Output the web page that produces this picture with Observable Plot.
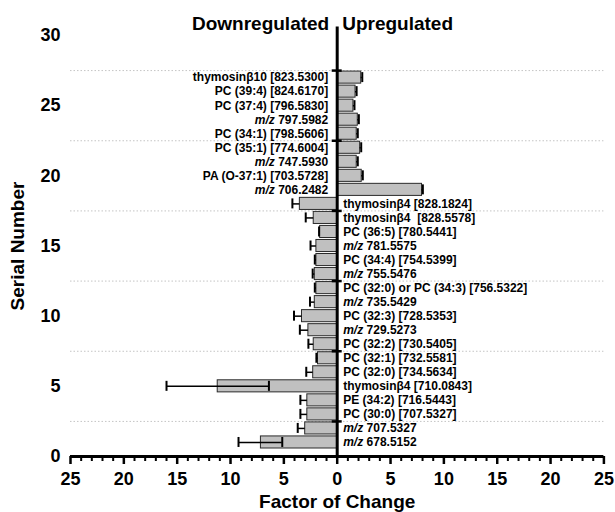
<!DOCTYPE html>
<html>
<head>
<meta charset="utf-8">
<script src="https://cdn.jsdelivr.net/npm/d3@7"></script>
<script src="https://cdn.jsdelivr.net/npm/@observablehq/plot@0.6"></script>
<style>
  html, body { margin: 0; padding: 0; background: #fff; }
</style>
</head>
<body>
<div id="chart"></div>
<script>
// Serial numbers (bottom to top)
const serials = [1,2,3,4,5,6,7,8,9,10,11,12,13,14,15,16,17,18,19,20,21,22,23,24,25,26,27];
const names = [
  "m/z 678.5152",
  "m/z 707.5327",
  "PC (30:0) [707.5327]",
  "PE (34:2) [716.5443]",
  "thymosinβ4 [710.0843]",
  "PC (32:0) [734.5634]",
  "PC (32:1) [732.5581]",
  "PC (32:2) [730.5405]",
  "m/z 729.5273",
  "PC (32:3) [728.5353]",
  "m/z 735.5429",
  "PC (32:0) or PC (34:3) [756.5322]",
  "m/z 755.5476",
  "PC (34:4) [754.5399]",
  "m/z 781.5575",
  "PC (36:5) [780.5441]",
  "thymosinβ4  [828.5578]",
  "thymosinβ4 [828.1824]",
  "m/z 706.2482",
  "PA (O-37:1) [703.5728]",
  "m/z 747.5930",
  "PC (35:1) [774.6004]",
  "PC (34:1) [798.5606]",
  "m/z 797.5982",
  "PC (37:4) [796.5830]",
  "PC (39:4) [824.6170]",
  "thymosinβ10 [823.5300]"
];
// Factor of change (negative = downregulated)
const values = [-7.15,-3.0,-2.8,-2.8,-11.2,-2.25,-1.8,-2.2,-2.7,-3.3,-2.1,-1.95,-2.1,-1.95,-1.95,-1.6,-2.2,-3.5,
                7.95,2.3,1.83,2.15,1.83,1.93,1.52,1.72,2.25];
// Error extent away from zero, and toward zero
const errOut = [2.1,0.7,0.65,0.65,4.8,0.65,0.15,0.5,0.8,0.75,0.45,0.15,0.2,0.15,0.55,0.1,0.75,0.7,
                0.08,0.1,0.1,0.1,0.1,0.1,0.1,0.1,0.1];
const errIn  = [2.0,0,0,0,4.8,0,0,0,0,0,0,0,0,0,0,0,0,0,
                0,0,0,0,0,0,0,0,0];

const xMajor = [-25,-20,-15,-10,-5,0,5,10,15,20,25];
const xMinor = d3.range(-25, 26).filter(v => v % 5 !== 0);
const yTicks = [0,5,10,15,20,25,30];
const gridVals = [2.5,7.5,12.5,17.5,22.5,27.5];
const titles = ["Downregulated", "Upregulated"];

const data = serials.map((s, i) => ({serial: s, name: names[i], value: values[i], errOut: errOut[i], errIn: errIn[i]}));
const outer = d => d.value + Math.sign(d.value) * d.errOut;
const inner = d => d.value - Math.sign(d.value) * d.errIn;

const font = "'Liberation Sans', Arial, Helvetica, sans-serif";

const svg = Plot.plot({
  width: 615,
  height: 512,
  marginLeft: 70,
  marginRight: 11.6,
  marginTop: 35,
  marginBottom: 56,
  x: {domain: [-25, 25]},
  y: {domain: [0, 30]},
  style: {fontFamily: font, background: "#fff", overflow: "visible"},
  marks: [
    Plot.ruleY(gridVals, {x1: -25, x2: 25, stroke: "#c4c4c4", strokeDasharray: "1.5,2", strokeWidth: 1}),
    Plot.rectX(data, {x1: 0, x2: "value", y1: d => d.serial - 0.43, y2: d => d.serial + 0.43,
      fill: "#c0c0c0", stroke: "#2a2a2a", strokeWidth: 1}),
    Plot.ruleY(data, {y: "serial", x1: inner, x2: outer, stroke: "#000", strokeWidth: 1.5}),
    Plot.ruleX(data, {x: outer, y1: "serial", y2: "serial", insetTop: -5, insetBottom: -5, stroke: "#000", strokeWidth: 2}),
    Plot.ruleX(data.filter(d => d.errIn > 0), {x: inner, y1: "serial", y2: "serial", insetTop: -5, insetBottom: -5, stroke: "#000", strokeWidth: 2}),
    Plot.ruleX([0], {y1: 0, y2: 30.6, stroke: "#000", strokeWidth: 3}),
    Plot.ruleY(gridVals, {x1: 0, x2: 0, insetLeft: -5, insetRight: -5, stroke: "#000", strokeWidth: 2.5}),
    Plot.ruleY([0], {x1: -25, x2: 25, stroke: "#000", strokeWidth: 3}),
    Plot.axisX({ticks: xMajor, tickSize: 8, strokeWidth: 2.5, tickPadding: 8, fontSize: 18, fontWeight: "bold",
      tickFormat: d => Math.abs(d), label: null, fill: "#000"}),
    Plot.axisX({ticks: xMinor, tickSize: 5, strokeWidth: 2, tickFormat: () => "", label: null}),
    Plot.axisY({ticks: yTicks, tickSize: 0, tickPadding: 10, fontSize: 18, fontWeight: "bold", label: null, fill: "#000"}),
    Plot.text(data.filter(d => d.value > 0), {x: 0, y: "serial", text: "name", textAnchor: "end", dx: -9,
      fontWeight: "bold", fontSize: 12, fill: "#000"}),
    Plot.text(data.filter(d => d.value < 0), {x: 0, y: "serial", text: "name", textAnchor: "start", dx: 6,
      fontWeight: "bold", fontSize: 12, fill: "#000"}),
    Plot.text([titles[0]], {x: 0, y: 30.41, text: d => d, textAnchor: "end", lineAnchor: "bottom", dx: -8,
      fontWeight: "bold", fontSize: 19, fill: "#000"}),
    Plot.text([titles[1]], {x: 0, y: 30.41, text: d => d, textAnchor: "start", lineAnchor: "bottom", dx: 5,
      fontWeight: "bold", fontSize: 19, fill: "#000"}),
    Plot.text(["Factor of Change"], {frameAnchor: "bottom", dy: 45, text: d => d, textAnchor: "middle", lineAnchor: "middle",
      fontWeight: "bold", fontSize: 19, fill: "#000"}),
    Plot.text(["Serial Number"], {frameAnchor: "left", dx: -53, rotate: -90, text: d => d, textAnchor: "middle", lineAnchor: "middle",
      fontWeight: "bold", fontSize: 19, fill: "#000"})
  ]
});

// italicize "m/z" prefixes
d3.select(svg).selectAll("text").each(function () {
  const t = this.textContent;
  if (this.childElementCount === 0 && t.startsWith("m/z ")) {
    this.textContent = "";
    d3.select(this).append("tspan").attr("font-style", "italic").text("m/z");
    d3.select(this).append("tspan").text("\u00a0" + t.slice(4));
  }
});

document.getElementById("chart").appendChild(svg);
</script>
</body>
</html>
